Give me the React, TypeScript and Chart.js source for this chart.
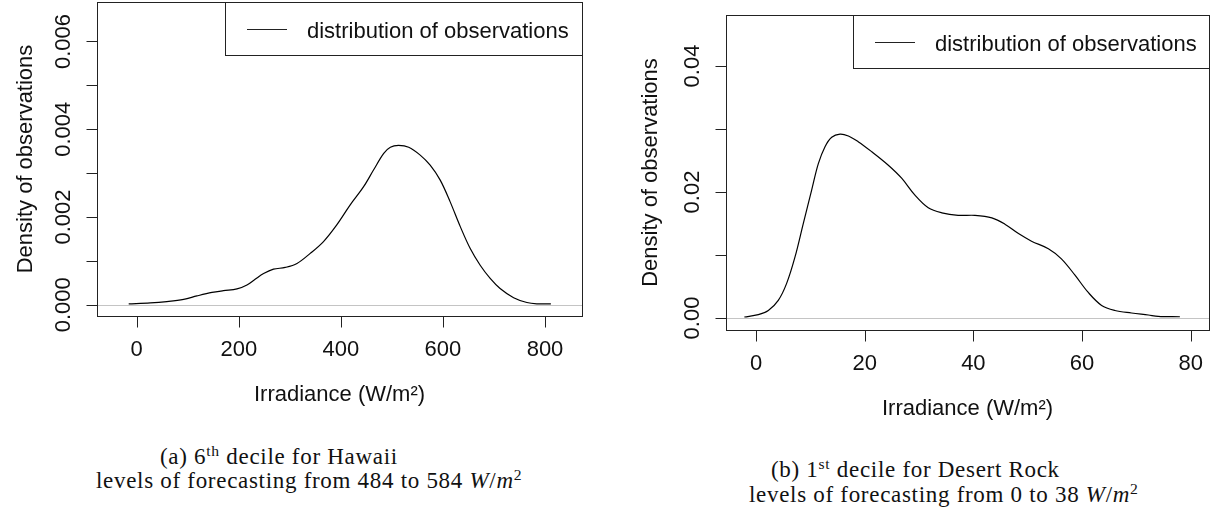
import React, { useEffect, useRef } from "react";
import { Chart, registerables } from "chart.js";

Chart.register(...registerables);

// ---------- Data ----------
const hawaiiIrradiance = [
  -15.7, 26.7, 59, 92, 118, 147.5, 170, 196.5, 216, 232, 248.6, 268, 291, 314, 340, 366, 392, 418,
  444.6, 464, 484, 497, 513, 533, 555.5, 575, 594.7, 614, 634, 653.5, 673, 692.6, 712, 738.5, 764.5,
  784, 811.5,
];
const hawaiiDensity = [
  0.00002, 0.00004, 0.00007, 0.00012, 0.0002, 0.00028, 0.00032, 0.00036, 0.00045, 0.00058, 0.00071,
  0.00081, 0.00085, 0.00094, 0.00117, 0.00144, 0.00182, 0.00227, 0.00269, 0.00307, 0.00345, 0.00359,
  0.00363, 0.00359, 0.00341, 0.00318, 0.00284, 0.00235, 0.00178, 0.00128, 0.0009, 0.0006, 0.00037,
  0.00016, 0.00005, 0.00002, 0.00002,
];

const desertIrradiance = [
  -2.15, 0.43, 2.27, 4.1, 5.64, 7.18, 8.7, 10.24, 11.47, 12.7, 13.93, 15.46, 17, 18.8, 21.3, 24.3, 26.8,
  29.25, 31.7, 34.2, 37.2, 40.3, 43.4, 45.8, 48.3, 50.7, 53.8, 56.2, 58.7, 61.1, 63.6, 66.05, 69.1, 72.2,
  74, 78,
];
const desertDensity = [
  0.00016, 0.00054, 0.0012, 0.0028, 0.0055, 0.0097, 0.015, 0.0203, 0.0245, 0.0272, 0.0287, 0.0292,
  0.0289, 0.028, 0.0264, 0.0243, 0.0222, 0.0195, 0.0175, 0.0167, 0.0163, 0.0163, 0.0159, 0.0149,
  0.0134, 0.0122, 0.011, 0.0094, 0.0068, 0.0041, 0.002, 0.0012, 0.0008, 0.00048, 0.00027, 0.0002,
];

const hawaiiXTicks = [0, 200, 400, 600, 800];
const hawaiiXLabels = ["0", "200", "400", "600", "800"];
const hawaiiYTicks = [0, 0.001, 0.002, 0.003, 0.004, 0.005, 0.006];
const hawaiiYLabels = ["0.000", "", "0.002", "", "0.004", "", "0.006"];

const desertXTicks = [0, 20, 40, 60, 80];
const desertXLabels = ["0", "20", "40", "60", "80"];
const desertYTicks = [0, 0.01, 0.02, 0.03, 0.04];
const desertYLabels = ["0.00", "", "0.02", "", "0.04"];

const legendLabel = "distribution of observations";
const xTitle = "Irradiance (W/m²)";
const yTitle = "Density of observations";

const SANS = "'Liberation Sans', Arial, sans-serif";
const INK = "#111111";

type DecorCfg = {
  xTicks: number[];
  xLabels: string[];
  yTicks: number[];
  yLabels: string[];
  legendWidth: number;
  legendHeight: number;
  yTitleOffset: number;
};

function makeDecor(cfg: DecorCfg) {
  return {
    id: "rDecor",
    beforeDatasetsDraw(chart: any) {
      const { ctx, chartArea: a, scales } = chart;
      const y0 = Math.round(scales.y.getPixelForValue(0)) + 0.5;
      ctx.save();
      ctx.strokeStyle = "#c4c4c4";
      ctx.lineWidth = 1.2;
      ctx.beginPath();
      ctx.moveTo(a.left, y0);
      ctx.lineTo(a.right, y0);
      ctx.stroke();
      ctx.restore();
    },
    afterDraw(chart: any) {
      const { ctx, chartArea: a, scales } = chart;
      const xs = scales.x;
      const ys = scales.y;
      ctx.save();
      ctx.strokeStyle = "#222";
      ctx.lineWidth = 1;
      // box
      ctx.strokeRect(a.left + 0.5, a.top + 0.5, a.right - a.left, a.bottom - a.top);
      // ticks
      ctx.beginPath();
      cfg.xTicks.forEach((v) => {
        const px = Math.round(xs.getPixelForValue(v)) + 0.5;
        ctx.moveTo(px, a.bottom + 0.5);
        ctx.lineTo(px, a.bottom + 11.5);
      });
      cfg.yTicks.forEach((v) => {
        const py = Math.round(ys.getPixelForValue(v)) + 0.5;
        ctx.moveTo(a.left + 0.5, py);
        ctx.lineTo(a.left - 10.5, py);
      });
      ctx.stroke();

      ctx.fillStyle = INK;
      ctx.font = `22px ${SANS}`;
      ctx.textAlign = "center";
      ctx.textBaseline = "middle";
      cfg.xTicks.forEach((v, i) => {
        ctx.fillText(cfg.xLabels[i], xs.getPixelForValue(v), a.bottom + 34);
      });
      cfg.yTicks.forEach((v, i) => {
        if (!cfg.yLabels[i]) return;
        ctx.save();
        ctx.translate(a.left - 33, ys.getPixelForValue(v));
        ctx.rotate(-Math.PI / 2);
        ctx.fillText(cfg.yLabels[i], 0, 0);
        ctx.restore();
      });
      // titles
      ctx.fillText(xTitle, (a.left + a.right) / 2, a.bottom + 79);
      ctx.save();
      ctx.translate(a.left - cfg.yTitleOffset, (a.top + a.bottom) / 2);
      ctx.rotate(-Math.PI / 2);
      ctx.fillText(yTitle, 0, 0);
      ctx.restore();

      // legend
      const lx = a.right - cfg.legendWidth;
      const ly = a.top;
      ctx.fillStyle = "#ffffff";
      ctx.fillRect(lx + 0.5, ly + 0.5, cfg.legendWidth, cfg.legendHeight);
      ctx.strokeRect(lx + 0.5, ly + 0.5, cfg.legendWidth, cfg.legendHeight);
      const mid = ly + cfg.legendHeight / 2;
      ctx.strokeStyle = "#222";
      ctx.lineWidth = 1.2;
      ctx.beginPath();
      ctx.moveTo(lx + 22, Math.round(mid) + 0.5);
      ctx.lineTo(lx + 62, Math.round(mid) + 0.5);
      ctx.stroke();
      ctx.fillStyle = INK;
      ctx.textAlign = "left";
      ctx.textBaseline = "alphabetic";
      ctx.fillText(legendLabel, lx + 82, mid + 9.5);
      ctx.restore();
    },
  };
}

type PanelProps = {
  xs: number[];
  ys: number[];
  xMin: number;
  xMax: number;
  yMin: number;
  yMax: number;
  padding: { left: number; right: number; top: number; bottom: number };
  width: number;
  height: number;
  decor: DecorCfg;
  style: React.CSSProperties;
};

function Panel(props: PanelProps) {
  const ref = useRef<HTMLCanvasElement | null>(null);
  useEffect(() => {
    if (!ref.current) return;
    const data = props.xs.map((x, i) => ({ x, y: props.ys[i] }));
    const chart = new Chart(ref.current, {
      type: "line",
      data: {
        datasets: [
          {
            data,
            borderColor: "#000",
            borderWidth: 1.2,
            pointRadius: 0,
            fill: false,
            tension: 0.35,
          },
        ],
      },
      options: {
        animation: false,
        responsive: false,
        devicePixelRatio: 1,
        layout: { padding: props.padding },
        plugins: { legend: { display: false }, tooltip: { enabled: false } },
        scales: {
          x: { type: "linear", display: false, min: props.xMin, max: props.xMax },
          y: { type: "linear", display: false, min: props.yMin, max: props.yMax },
        },
      },
      plugins: [makeDecor(props.decor)],
    } as any);
    return () => chart.destroy();
  }, []);
  return (
    <canvas
      ref={ref}
      width={props.width}
      height={props.height}
      style={{ position: "absolute", width: props.width, height: props.height, ...props.style }}
    />
  );
}

const capFont: React.CSSProperties = {
  position: "absolute",
  fontFamily: "'Liberation Serif', 'Times New Roman', serif",
  fontSize: 23,
  letterSpacing: 0.7,
  lineHeight: "24px",
  whiteSpace: "nowrap",
  color: "#111",
};
const sup: React.CSSProperties = { fontSize: "0.68em", position: "relative", top: "-0.5em" };

export default function App() {
  return (
    <div
      style={{
        position: "absolute",
        left: 0,
        top: 0,
        width: 1214,
        height: 508,
        background: "#fff",
        overflow: "hidden",
      }}
    >
      <Panel
        xs={hawaiiIrradiance}
        ys={hawaiiDensity}
        xMin={-77.8}
        xMax={872.5}
        yMin={-0.000257}
        yMax={0.0069}
        padding={{ left: 97, right: 18, top: 2, bottom: 104 }}
        width={600}
        height={420}
        decor={{
          xTicks: hawaiiXTicks,
          xLabels: hawaiiXLabels,
          yTicks: hawaiiYTicks,
          yLabels: hawaiiYLabels,
          legendWidth: 357,
          legendHeight: 53,
          yTitleOffset: 71,
        }}
        style={{ left: 0, top: 0 }}
      />
      <Panel
        xs={desertIrradiance}
        ys={desertDensity}
        xMin={-5.52}
        xMax={83.36}
        yMin={-0.0019}
        yMax={0.0481}
        padding={{ left: 116, right: 5, top: 15, bottom: 100 }}
        width={604}
        height={430}
        decor={{
          xTicks: desertXTicks,
          xLabels: desertXLabels,
          yTicks: desertYTicks,
          yLabels: desertYLabels,
          legendWidth: 356,
          legendHeight: 53,
          yTitleOffset: 75,
        }}
        style={{ left: 610, top: 0 }}
      />
      <div style={{ ...capFont, left: 160, top: 465 - 20 }}>
        (a) 6<span style={sup}>th</span> decile for Hawaii
      </div>
      <div style={{ ...capFont, left: 96, top: 489 - 20 }}>
        levels of forecasting from 484 to 584 <i>W</i>/<i>m</i>
        <span style={sup}>2</span>
      </div>
      <div style={{ ...capFont, left: 771, top: 478 - 20 }}>
        (b) 1<span style={sup}>st</span> decile for Desert Rock
      </div>
      <div style={{ ...capFont, left: 749, top: 503 - 20 }}>
        levels of forecasting from 0 to 38 <i>W</i>/<i>m</i>
        <span style={sup}>2</span>
      </div>
    </div>
  );
}
